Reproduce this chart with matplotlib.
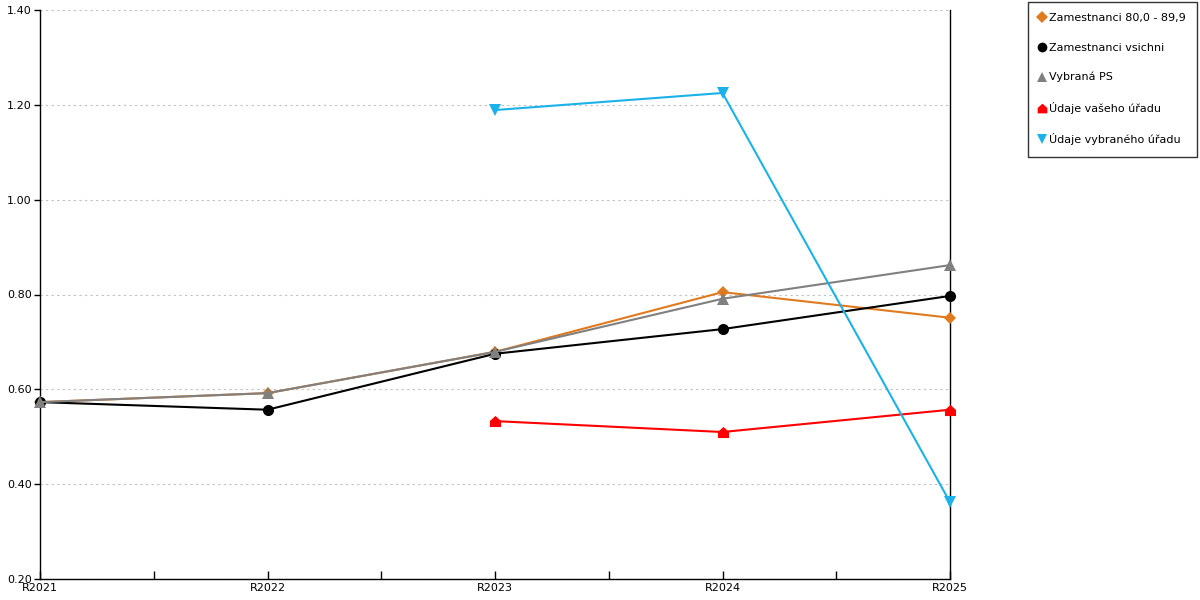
import numpy as np
import matplotlib
matplotlib.use("Agg")
import matplotlib.pyplot as plt
from matplotlib.lines import Line2D
from matplotlib.path import Path

years = ["R2021", "R2022", "R2023", "R2024", "R2025"]

zam_80 = [0.573, 0.592, 0.679, 0.805, 0.751]
zam_all = [0.573, 0.557, 0.675, 0.727, 0.797]
vybrana_ps = [0.573, 0.592, 0.679, 0.791, 0.862]
vas_urad = [None, None, 0.533, 0.510, 0.557]
vybrany_urad = [None, None, 1.189, 1.225, 0.362]

# house-shaped marker for the red series
house = Path([(-1, -1), (1, -1), (1, 0.1), (0, 1), (-1, 0.1), (-1, -1)],
             [Path.MOVETO] + [Path.LINETO] * 4 + [Path.CLOSEPOLY])

series = [
    ("Zamestnanci 80,0 - 89,9", zam_80, "#e07a1f", "D", 6),
    ("Zamestnanci vsichni", zam_all, "#000000", "o", 8),
    ("Vybraná PS", vybrana_ps, "#808080", "^", 8),
    ("Údaje vašeho úřadu", vas_urad, "#ff0000", house, 8),
    ("Údaje vybraného úřadu", vybrany_urad, "#1ab2e8", "v", 8),
]

fig = plt.figure(figsize=(12, 6), dpi=100)
ax = fig.add_axes([40 / 1200, 21 / 600, 910 / 1200, 569 / 600])

x = np.arange(len(years))
handles = []
for label, vals, color, marker, ms in series:
    xs = [i for i, v in zip(x, vals) if v is not None]
    ys = [v for v in vals if v is not None]
    ax.plot(xs, ys, color=color, lw=1.5, marker=marker, ms=ms,
            markeredgewidth=0, clip_on=False, zorder=3)
    handles.append(Line2D([], [], color=color, marker=marker, ms=7 if ms > 6 else 6,
                          linestyle="none", markeredgewidth=0, label=label))

ax.set_xlim(0, len(years) - 1)
ax.set_ylim(0.2, 1.4)
ax.set_yticks(np.arange(0.2, 1.41, 0.2))
ax.set_yticklabels([f"{v:.2f}" for v in np.arange(0.2, 1.41, 0.2)])
ax.set_xticks(x)
ax.set_xticklabels(years)
ax.set_xticks(x[:-1] + 0.5, minor=True)
ax.tick_params(axis="x", which="both", direction="in", length=6, width=1,
               labelsize=8, pad=3)
ax.tick_params(axis="y", direction="out", length=4, width=1, labelsize=8, pad=2)
ax.grid(axis="y", color="#c0c0c0", linestyle=(0, (2, 3)), lw=0.8)
ax.spines["top"].set_visible(False)
for s in ["left", "bottom", "right"]:
    ax.spines[s].set_color("black")
    ax.spines[s].set_linewidth(1)

leg = fig.legend(handles=handles, loc="upper left",
                 bbox_to_anchor=(1028 / 1200, 1 - 2 / 600),
                 frameon=True, fancybox=False, edgecolor="black", fontsize=8,
                 handlelength=0.6, handletextpad=0.3, labelspacing=1.75,
                 borderpad=1.0, borderaxespad=0)
leg.get_frame().set_linewidth(1)

fig.savefig("out.png", dpi=100)
